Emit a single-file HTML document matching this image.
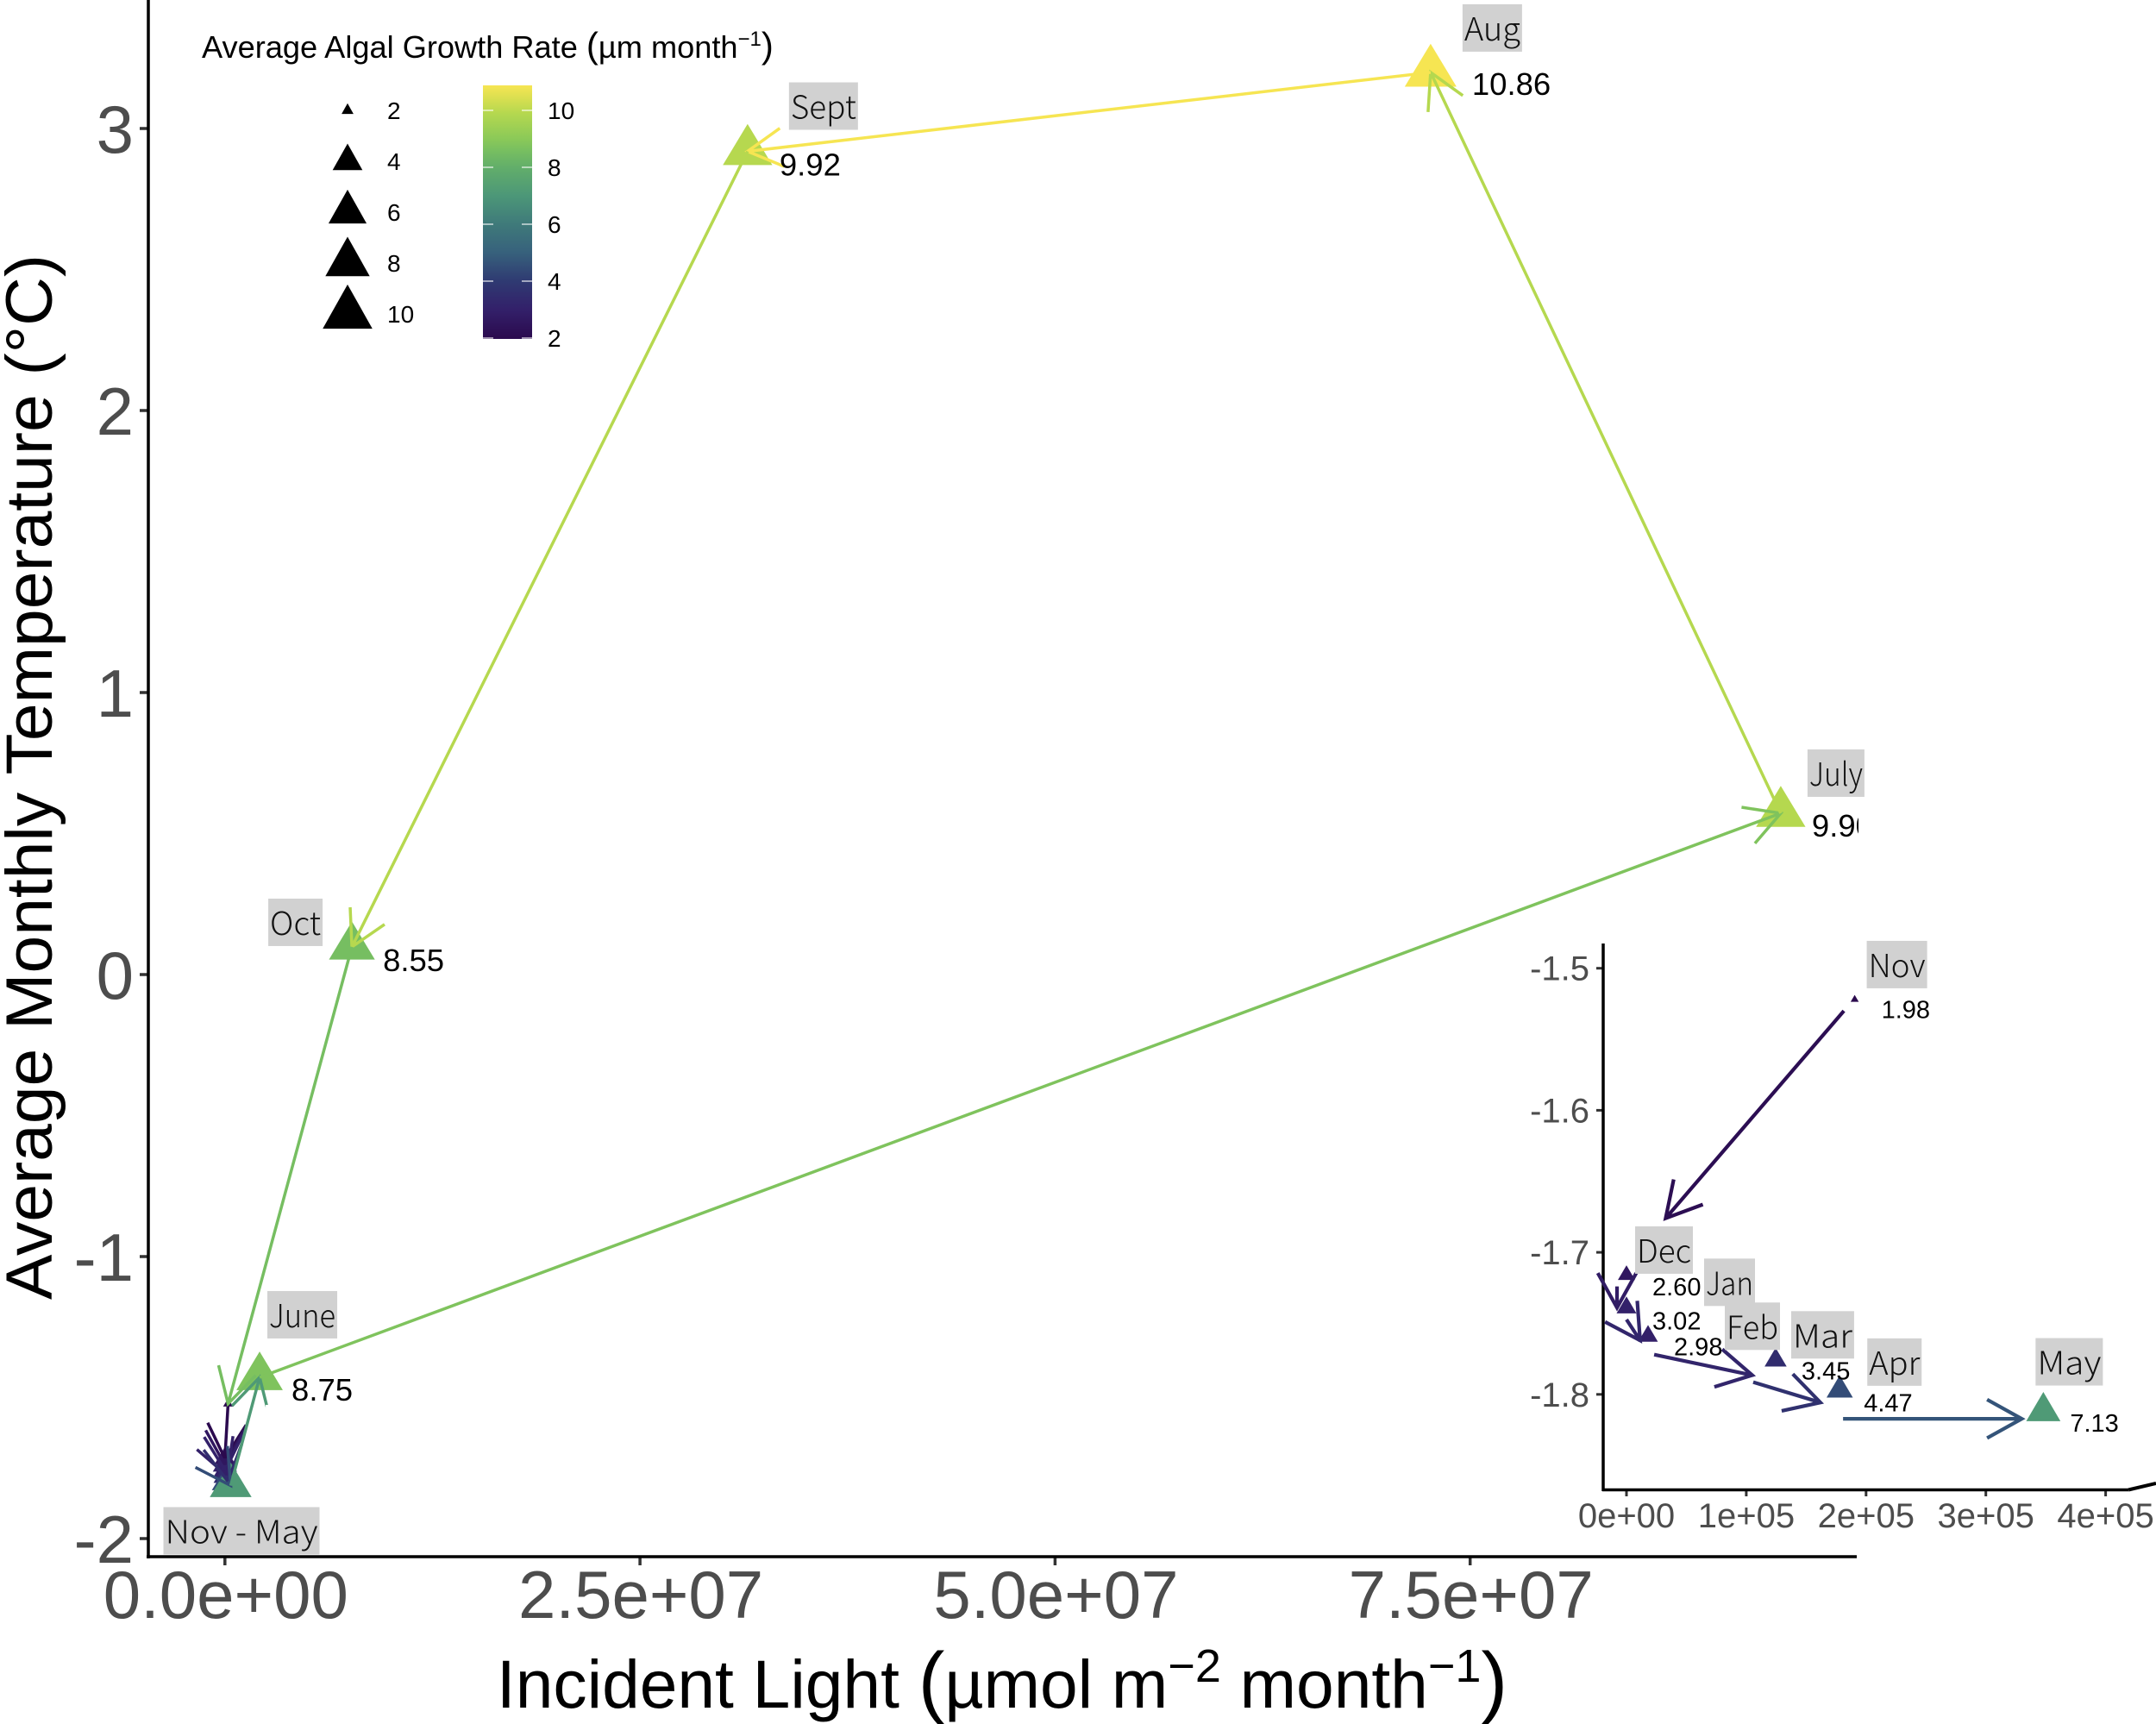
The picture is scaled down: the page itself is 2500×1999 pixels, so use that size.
<!DOCTYPE html>
<html lang="en">
<head>
<meta charset="utf-8">
<title>Average Monthly Temperature vs Incident Light</title>
<style>
  html, body { margin: 0; padding: 0; background: #ffffff; }
  svg { display: block; }
  text { font-family: "Liberation Sans", sans-serif; }
  .month-text { font-family: "Noto Sans CJK TC", "Noto Sans CJK SC", "Liberation Sans", sans-serif; font-weight: 300; }
</style>
</head>
<body>
<svg id="chart" xmlns="http://www.w3.org/2000/svg" width="2500" height="1999" viewBox="0 0 2500 1999">
  <defs>
    <clipPath id="main-clip"><rect x="0" y="0" width="2155" height="1999"></rect></clipPath>
    <linearGradient id="viridis-bar" x1="0" y1="1" x2="0" y2="0"></linearGradient>
  </defs>
  <rect x="0" y="0" width="2500" height="1999" fill="#ffffff"></rect>
  <g id="main-plot"></g>
  <g id="inset-plot"></g>
  <g id="legend"></g>

  <text x="1162" y="1980" text-anchor="middle" font-size="78.5" fill="#000000">Incident Light <tspan font-size="92">(</tspan>µmol m<tspan font-size="54" dy="-30">−2</tspan><tspan dy="30"> month</tspan><tspan font-size="54" dy="-30">−1</tspan><tspan font-size="92" dy="30">)</tspan></text>
  <text transform="translate(60,901) rotate(-90)" text-anchor="middle" font-size="76" fill="#000000" textLength="1212" lengthAdjust="spacingAndGlyphs">Average Monthly Temperature (°C)</text>
  <text x="234" y="67" font-size="36.2" fill="#000000">Average Algal Growth Rate <tspan font-size="42">(</tspan>µm month<tspan font-size="24" dy="-14">−1</tspan><tspan font-size="42" dy="14">)</tspan></text>
  <path d="M2468 1727.5 L2500 1720" fill="none" stroke="#000000" stroke-width="4"></path>
</svg>

<script>
// ---------- data ----------
const months = ['Nov', 'Dec', 'Jan', 'Feb', 'Mar', 'Apr', 'May', 'June', 'July', 'Aug', 'Sept', 'Oct'];
const lightValues = [190500, 0, 0, 18000, 124500, 178000, 348000, 2090000, 93710000, 72620000, 31480000, 7650000];
const temperatureValues = [-1.522, -1.716, -1.739, -1.759, -1.776, -1.797, -1.812, -1.428, 0.572, 3.199, 2.919, 0.098];
const growthValues = [1.98, 2.60, 3.02, 2.98, 3.45, 4.47, 7.13, 8.75, 9.90, 10.86, 9.92, 8.55];

const mainXTicks = [0, 25000000, 50000000, 75000000];
const mainXTickLabels = ['0.0e+00', '2.5e+07', '5.0e+07', '7.5e+07'];
const mainYTicks = [-2, -1, 0, 1, 2, 3];
const mainYTickLabels = ['-2', '-1', '0', '1', '2', '3'];

const insetXTicks = [0, 100000, 200000, 300000, 400000];
const insetXTickLabels = ['0e+00', '1e+05', '2e+05', '3e+05', '4e+05'];
const insetYTicks = [-1.5, -1.6, -1.7, -1.8];
const insetYTickLabels = ['-1.5', '-1.6', '-1.7', '-1.8'];

const insetArrowStartX = [181500, -7900, 0, 23100, 105800, 180800];
const insetArrowStartY = [-1.530, -1.724, -1.7473, -1.772, -1.7914, -1.8172];
const insetArrowEndX = [32700, -7900, 11400, 105000, 161900, 330000];
const insetArrowEndY = [-1.676, -1.739, -1.762, -1.7865, -1.8057, -1.8172];

const legendSizeValues = [2, 4, 6, 8, 10];
const legendColorValues = [10, 8, 6, 4, 2];
const colorStopValues = [2, 3, 4, 5, 6, 7, 8, 8.6, 9, 9.9, 10.86];
const colorStopHexes = ['#2b0a4e', '#33206a', '#2f3a72', '#37617c', '#3f7a7a', '#4c9778', '#62ae6a', '#78bf60', '#8bc958', '#b5d84f', '#f6e552'];

// ---------- scales ----------
const NS = 'http://www.w3.org/2000/svg';
const mainX = v => 260.8 + v / 25000000 * 481.3;
const mainY = v => 1130 - v * 327;
const insetX = v => 1886 + v / 100000 * 138.9;
const insetY = v => 1122.7 + (-1.5 - v) * 1647;
const barY = v => 392 - (v - 2) * 33;
const tickInk = '#333333';
const labelInk = '#4d4d4d';

function hexToRgb(h) {
  return [parseInt(h.slice(1, 3), 16), parseInt(h.slice(3, 5), 16), parseInt(h.slice(5, 7), 16)];
}
function growthColor(v) {
  const n = colorStopValues.length;
  if (v <= colorStopValues[0]) return colorStopHexes[0];
  if (v >= colorStopValues[n - 1]) return colorStopHexes[n - 1];
  let i = 0;
  while (v > colorStopValues[i + 1]) i++;
  const t = (v - colorStopValues[i]) / (colorStopValues[i + 1] - colorStopValues[i]);
  const a = hexToRgb(colorStopHexes[i]);
  const b = hexToRgb(colorStopHexes[i + 1]);
  return 'rgb(' + a.map((c, k) => Math.round(c + (b[k] - c) * t)).join(',') + ')';
}
function triangleWidth(v) {
  return 11.5 + 48.5 * Math.sqrt(Math.max(v - 1.98, 0) / 8.88);
}
function make(parent, tag, attrs, content) {
  const el = document.createElementNS(NS, tag);
  for (const k in attrs) el.setAttribute(k, attrs[k]);
  if (content !== undefined) el.textContent = content;
  parent.appendChild(el);
  return el;
}
function trianglePoints(cx, cy, w, ratio) {
  const h = w * ratio;
  return [cx, cy - h * 2 / 3, cx - w / 2, cy + h / 3, cx + w / 2, cy + h / 3].join(' ');
}
function arrowPath(x0, y0, x1, y1) {
  const ang = Math.atan2(y0 - y1, x0 - x1);
  const len = 46, spread = 29 * Math.PI / 180;
  const ax = x1 + len * Math.cos(ang + spread), ay = y1 + len * Math.sin(ang + spread);
  const bx = x1 + len * Math.cos(ang - spread), by = y1 + len * Math.sin(ang - spread);
  return 'M' + x0 + ' ' + y0 + 'L' + x1 + ' ' + y1 + 'M' + ax + ' ' + ay + 'L' + x1 + ' ' + y1 + 'L' + bx + ' ' + by;
}

const mainG = document.getElementById('main-plot');
const insetG = document.getElementById('inset-plot');
const legendG = document.getElementById('legend');

// ---------- month label and value label helpers ----------
function monthLabel(parent, text, left, top, width) {
  const box = make(parent, 'rect', { x: left, y: top, width: width, height: 55, fill: '#d1d1d1' });
  
  
  const t = make(parent, 'text', { x: left + width / 2, y: top + 42, 'text-anchor': 'middle', 'font-size': 37, fill: '#111111', class: 'month-text', textLength: width - 4, lengthAdjust: 'spacingAndGlyphs' }, text);
  
  
}
function valueLabel(parent, month, value, left, centerY, size) {
  const t = make(parent, 'text', { x: left, y: centerY + size * 0.36, 'font-size': size, fill: '#000000' }, value.toFixed(2));
  
  
  return t;
}

// ---------- main plot ----------
(function drawMain() {
  mainXTicks.forEach((v, i) => {
    const tick = make(mainG, 'line', { x1: mainX(v), x2: mainX(v), y1: 1805, y2: 1815, stroke: tickInk, 'stroke-width': 3.5 });
    
    
    const lab = make(mainG, 'text', { x: mainX(v) + 1, y: 1876, 'text-anchor': 'middle', 'font-size': 78, fill: labelInk }, mainXTickLabels[i]);
    
    
  });
  mainYTicks.forEach((v, i) => {
    const tick = make(mainG, 'line', { x1: 162, x2: 172, y1: mainY(v), y2: mainY(v), stroke: tickInk, 'stroke-width': 3.5 });
    
    
    const lab = make(mainG, 'text', { x: 155, y: mainY(v) + 28, 'text-anchor': 'end', 'font-size': 78, fill: labelInk }, mainYTickLabels[i]);
    
    
  });
  const yAxis = make(mainG, 'line', { x1: 172, x2: 172, y1: 0, y2: 1807, stroke: '#000000', 'stroke-width': 3.5 });
  
  
  const xAxis = make(mainG, 'line', { x1: 170, x2: 2153, y1: 1805, y2: 1805, stroke: '#000000', 'stroke-width': 3.5 });
  
  

  months.forEach((m, i) => {
    const p = make(mainG, 'polygon', {
      points: trianglePoints(mainX(lightValues[i]), mainY(temperatureValues[i]), triangleWidth(growthValues[i]), 0.83),
      fill: growthColor(growthValues[i])
    });
    
    
  });
  months.forEach((m, i) => {
    const j = (i + 1) % months.length;
    const a = make(mainG, 'path', {
      d: arrowPath(mainX(lightValues[i]), mainY(temperatureValues[i]), mainX(lightValues[j]), mainY(temperatureValues[j])),
      fill: 'none', stroke: growthColor(growthValues[i]), 'stroke-width': 3.5
    });
    
    
  });

  const px = i => mainX(lightValues[i]);
  const py = i => mainY(temperatureValues[i]);
  const mask = make(mainG, 'rect', { x: px(7) + 7, y: py(7) + 32, width: 70, height: 26, fill: '#ffffff' });
  
  
  monthLabel(mainG, 'Nov - May', px(6) - 78, py(6) + 25, 181);
  monthLabel(mainG, 'June', px(7) + 9, py(7) - 100, 81);
  monthLabel(mainG, 'July', px(8) + 31, py(8) - 74, 66);
  monthLabel(mainG, 'Aug', px(9) + 37, py(9) - 79, 69);
  monthLabel(mainG, 'Sept', px(10) + 48, py(10) - 80, 80);
  monthLabel(mainG, 'Oct', px(11) - 97, py(11) - 56, 63);
  valueLabel(mainG, 'June', growthValues[7], px(7) + 37, py(7) + 14, 36.5);
  const julyValue = valueLabel(mainG, 'July', growthValues[8], px(8) + 36, py(8) + 14, 36.5);
  julyValue.setAttribute('clip-path', 'url(#main-clip)');
  valueLabel(mainG, 'Aug', growthValues[9], px(9) + 48, py(9) + 13, 36.5);
  valueLabel(mainG, 'Sept', growthValues[10], px(10) + 37, py(10) + 15, 36.5);
  valueLabel(mainG, 'Oct', growthValues[11], px(11) + 36, py(11) + 15, 36.5);
})();

// ---------- inset plot ----------
(function drawInset() {
  insetXTicks.forEach((v, i) => {
    const tick = make(insetG, 'line', { x1: insetX(v), x2: insetX(v), y1: 1727.5, y2: 1735, stroke: tickInk, 'stroke-width': 3 });
    
    
    const lab = make(insetG, 'text', { x: insetX(v), y: 1771, 'text-anchor': 'middle', 'font-size': 40, fill: labelInk }, insetXTickLabels[i]);
    
    
  });
  insetYTicks.forEach((v, i) => {
    const tick = make(insetG, 'line', { x1: 1851, x2: 1859, y1: insetY(v), y2: insetY(v), stroke: tickInk, 'stroke-width': 3 });
    
    
    const lab = make(insetG, 'text', { x: 1843, y: insetY(v) + 14, 'text-anchor': 'end', 'font-size': 40, fill: labelInk }, insetYTickLabels[i]);
    
    
  });
  const yAxis = make(insetG, 'line', { x1: 1859, x2: 1859, y1: 1094, y2: 1729, stroke: '#000000', 'stroke-width': 3.5 });
  
  
  const xAxis = make(insetG, 'line', { x1: 1858, x2: 2468, y1: 1727.5, y2: 1727.5, stroke: '#000000', 'stroke-width': 3.5 });
  
  

  const px = i => insetX(lightValues[i]);
  const py = i => insetY(temperatureValues[i]);
  for (let i = 0; i < 7; i++) {
    const p = make(insetG, 'polygon', {
      points: trianglePoints(px(i), py(i), 0.82 * triangleWidth(growthValues[i]), 0.85),
      fill: growthColor(growthValues[i])
    });
    
    
  }
  insetArrowStartX.forEach((v, i) => {
    const a = make(insetG, 'path', {
      d: arrowPath(insetX(v), insetY(insetArrowStartY[i]), insetX(insetArrowEndX[i]), insetY(insetArrowEndY[i])),
      fill: 'none', stroke: growthColor(growthValues[i] + 0.2), 'stroke-width': 4.2
    });
    
    
  });

  monthLabel(insetG, 'Nov', px(0) + 14, py(0) - 68, 70);
  monthLabel(insetG, 'Dec', px(1) + 10, py(1) - 56.5, 67);
  monthLabel(insetG, 'Jan', px(2) + 90, py(2) - 57, 59);
  monthLabel(insetG, 'Feb', px(3) + 89, py(3) - 39, 64);
  monthLabel(insetG, 'Mar', px(4) + 18, py(4) - 57, 73);
  monthLabel(insetG, 'Apr', px(5) + 32, py(5) - 60, 63);
  monthLabel(insetG, 'May', px(6) - 9, py(6) - 85, 78);
  valueLabel(insetG, 'Nov', growthValues[0], px(0) + 31, py(0) + 11, 29);
  valueLabel(insetG, 'Dec', growthValues[1], px(1) + 30, py(1) + 13, 29);
  valueLabel(insetG, 'Jan', growthValues[2], px(2) + 30, py(2) + 14.5, 29);
  valueLabel(insetG, 'Feb', growthValues[3], px(3) + 30, py(3) + 12, 29);
  valueLabel(insetG, 'Mar', growthValues[4], px(4) + 30, py(4) + 12, 29);
  valueLabel(insetG, 'Apr', growthValues[5], px(5) + 28, py(5) + 14, 29);
  valueLabel(insetG, 'May', growthValues[6], px(6) + 31, py(6) + 13, 29);
})();

// ---------- legend ----------
(function drawLegend() {
  legendSizeValues.forEach((v, i) => {
    const rowY = 128 + 59 * i;
    const p = make(legendG, 'polygon', { points: trianglePoints(403, rowY, triangleWidth(v), 0.89), fill: '#000000' });
    
    
    const t = make(legendG, 'text', { x: 449, y: rowY + 10, 'font-size': 28, fill: '#000000' }, String(v));
    
    
  });

  const grad = document.getElementById('viridis-bar');
  const low = 1.97, high = 10.88;
  colorStopValues.forEach((v, i) => {
    const s = document.createElementNS(NS, 'stop');
    s.setAttribute('offset', Math.max(0, (v - low) / (high - low)));
    s.setAttribute('stop-color', colorStopHexes[i]);
    grad.appendChild(s);
  });
  const bar = make(legendG, 'rect', { x: 560, y: barY(high), width: 57, height: barY(low) - barY(high), fill: 'url(#viridis-bar)' });
  
  
  legendColorValues.forEach(v => {
    const left = make(legendG, 'line', { x1: 560, x2: 572, y1: barY(v), y2: barY(v), stroke: '#ffffff', 'stroke-opacity': 0.75, 'stroke-width': 1.5 });
    
    
    const right = make(legendG, 'line', { x1: 605, x2: 617, y1: barY(v), y2: barY(v), stroke: '#ffffff', 'stroke-opacity': 0.75, 'stroke-width': 1.5 });
    
    
    const t = make(legendG, 'text', { x: 635, y: barY(v) + 10, 'font-size': 28, fill: '#000000' }, String(v));
    
    
  });
})();
</script>
</body>
</html>
